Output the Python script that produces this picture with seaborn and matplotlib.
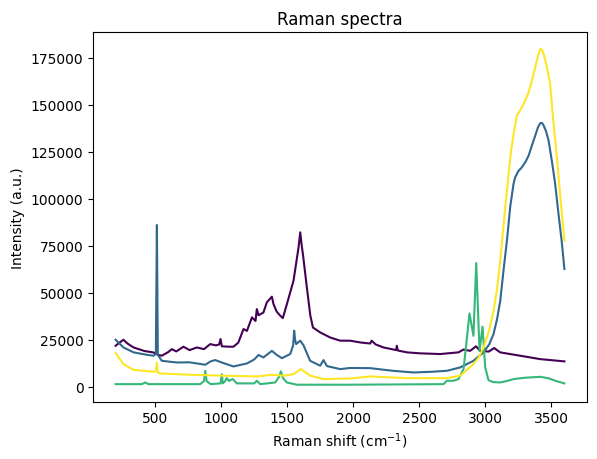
import numpy as np
import pandas as pd
import matplotlib
matplotlib.use("Agg")
import matplotlib.pyplot as plt
import seaborn as sns

# Series A (purple)
a_x = [200, 230, 260, 290, 336, 420, 487, 520, 550, 600, 626, 660, 714, 760, 816, 870, 917, 960, 985, 995, 1005,
       1060, 1093, 1130, 1169, 1195, 1233, 1260, 1270, 1283, 1320, 1346, 1384, 1396, 1420, 1447, 1467, 1498, 1548,
       1586, 1599, 1610, 1619, 1649, 1675, 1695, 1750, 1826, 1902, 1977, 2060, 2129, 2140, 2170, 2230, 2325, 2331,
       2337, 2407, 2500, 2659, 2798, 2836, 2886, 2930, 2962, 3026, 3068, 3113, 3265, 3417, 3600]
a_y = [21800, 23500, 25000, 23000, 20900, 19000, 18250, 17000, 16500, 18500, 20000, 18800, 21300, 19500, 20900, 20000,
       22700, 22000, 22500, 25400, 21500, 21300, 21300, 23500, 30700, 29700, 36900, 35000, 41300, 38000, 39500, 44900,
       47900, 44000, 40000, 37800, 36500, 44000, 56400, 74100, 82100, 75000, 70600, 52800, 38000, 31500, 28900, 26200,
       24500, 24500, 23500, 23000, 24500, 22500, 20900, 19500, 21800, 19300, 18300, 17800, 17400, 18300, 19800, 19100,
       21500, 19100, 18700, 20600, 18300, 16500, 14700, 13500]

# Series B (blue)
b_x = [200, 260, 336, 420, 487, 505, 513, 520, 550, 664, 760, 816, 879, 920, 955, 1005, 1093, 1195, 1250, 1283, 1320,
       1384, 1420, 1460, 1523, 1545, 1553, 1560, 1568, 1599, 1624, 1674, 1750, 1775, 1801, 1902, 1977, 2129, 2300,
       2457, 2600, 2710, 2811, 2911, 2987, 3030, 3063, 3090, 3114, 3139, 3165, 3190, 3215, 3227, 3250, 3278, 3305,
       3329, 3355, 3379, 3400, 3417, 3430, 3442, 3460, 3480, 3505, 3530, 3555, 3580, 3600]
b_y = [25000, 20900, 18300, 17200, 16500, 17500, 86000, 17000, 13800, 12900, 13000, 12400, 11700, 13500, 14200, 12900,
       10800, 12400, 14500, 16900, 15600, 19100, 17000, 15200, 17400, 22000, 29800, 25000, 22700, 24500, 22000, 13800,
       11200, 14200, 11000, 9400, 10000, 9900, 8500, 7600, 8000, 8500, 10300, 13800, 18300, 22500, 28000, 36000,
       45700, 62000, 78000, 96000, 108000, 111300, 114500, 116700, 119500, 122900, 128500, 133500, 138000, 140100,
       140300, 139000, 136000, 130900, 120000, 107800, 92000, 77000, 62600]

# Series C (green)
c_x = [200, 400, 424, 450, 841, 870, 879, 890, 920, 995, 1005, 1012, 1030, 1043, 1060, 1068, 1088, 1118, 1250, 1270,
       1296, 1410, 1440, 1452, 1470, 1497, 1573, 1977, 2684, 2710, 2760, 2798, 2836, 2860, 2881, 2911, 2932, 2957,
       2980, 3000, 3025, 3060, 3114, 3160, 3215, 3300, 3417, 3480, 3540, 3600]
c_y = [1400, 1400, 2300, 1400, 1400, 3000, 8500, 3000, 1400, 1800, 6700, 1800, 3000, 4600, 3000, 3500, 4100, 1800,
       1800, 3200, 1400, 2300, 5500, 8200, 4500, 2300, 1100, 1100, 1400, 3200, 3200, 4100, 9400, 25000, 39000, 27100,
       65800, 19100, 31900, 10300, 3500, 2500, 2300, 3000, 4100, 4800, 5300, 4500, 3000, 1800]

# Series D (yellow)
d_x = [200, 260, 336, 487, 505, 513, 520, 538, 765, 1017, 1270, 1384, 1472, 1548, 1604, 1674, 1775, 1977, 2129, 2407,
       2710, 2811, 2911, 2950, 2987, 3030, 3063, 3090, 3114, 3135, 3157, 3177, 3195, 3215, 3240, 3260, 3278, 3305,
       3329, 3355, 3379, 3400, 3417, 3432, 3447, 3470, 3492, 3515, 3543, 3570, 3600]
d_y = [17900, 12000, 9000, 8000, 8200, 12900, 7500, 7100, 6400, 5900, 5500, 6400, 5900, 6700, 9400, 5900, 4100, 4400,
       5500, 4600, 4600, 5900, 12100, 15500, 20900, 30000, 40400, 52000, 67000, 83000, 98900, 113100, 125000, 134400,
       144100, 146500, 148600, 152500, 156600, 163000, 169800, 176000, 179600, 179000, 176000, 169000, 161000, 142000,
       122000, 100000, 77700]

names = ["Sample 1", "Sample 2", "Sample 3", "Sample 4"]

frames = []
for name, xs, ys in zip(names, [a_x, b_x, c_x, d_x], [a_y, b_y, c_y, d_y]):
    frames.append(pd.DataFrame({"shift": xs, "intensity": ys, "sample": name}))
df = pd.concat(frames, ignore_index=True)

colors = [plt.cm.viridis(v) for v in np.linspace(0, 1, 4)]

fig = plt.figure(figsize=(5.97, 4.6), dpi=100)
ax = fig.add_axes([0.156, 0.125, 0.827, 0.803])
sns.lineplot(data=df, x="shift", y="intensity", hue="sample", palette=colors,
             estimator=None, sort=False, legend=False, linewidth=1.5, ax=ax)
ax.set_title("Raman spectra")
ax.set_xlabel("Raman shift (cm$^{-1}$)")
ax.set_ylabel("Intensity (a.u.)")
fig.savefig("out.png", dpi=100)
